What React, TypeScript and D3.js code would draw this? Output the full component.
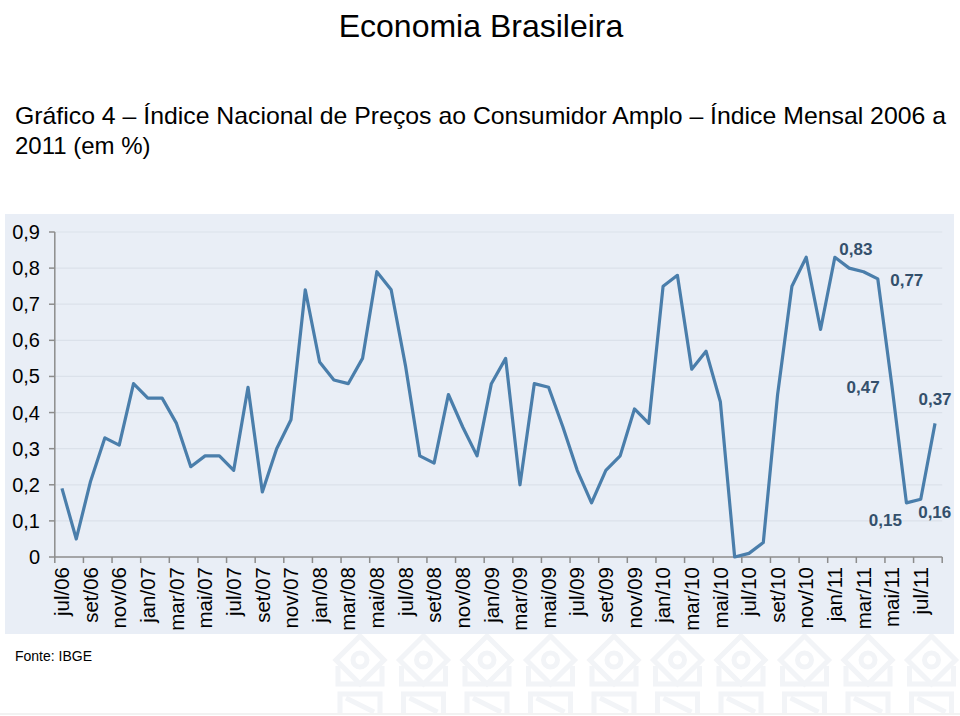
import React from "react";
import * as d3 from "d3";

const months = ["jan", "fev", "mar", "abr", "mai", "jun", "jul", "ago", "set", "out", "nov", "dez"];

// IPCA monthly values (%), jul/06 .. ago/11
const values2006 = [0.19, 0.05, 0.21, 0.33, 0.31, 0.48]; // jul..dez
const values2007 = [0.44, 0.44, 0.37, 0.25, 0.28, 0.28, 0.24, 0.47, 0.18, 0.3, 0.38, 0.74];
const values2008 = [0.54, 0.49, 0.48, 0.55, 0.79, 0.74, 0.53, 0.28, 0.26, 0.45, 0.36, 0.28];
const values2009 = [0.48, 0.55, 0.2, 0.48, 0.47, 0.36, 0.24, 0.15, 0.24, 0.28, 0.41, 0.37];
const values2010 = [0.75, 0.78, 0.52, 0.57, 0.43, 0.0, 0.01, 0.04, 0.45, 0.75, 0.83, 0.63];
const values2011 = [0.83, 0.8, 0.79, 0.77, 0.47, 0.15, 0.16, 0.37]; // jan..ago

const values = [...values2006, ...values2007, ...values2008, ...values2009, ...values2010, ...values2011];

// category labels "mmm/yy"
const categories: string[] = [];
{
  let m = 6, y = 6;
  for (let i = 0; i < values.length; i++) {
    categories.push(`${months[m]}/${String(y).padStart(2, "0")}`);
    m++;
    if (m === 12) { m = 0; y++; }
  }
}

const yTicks = [0, 0.1, 0.2, 0.3, 0.4, 0.5, 0.6, 0.7, 0.8, 0.9];

// labelled points (category index)
const annotatedIdx = [54, 57, 58, 59, 60, 61];
// label placement offsets from the point (px)
const annotationOffsets: [number, number][] = [
  [21, -8], [29, 1], [-29, 0], [-21, 17], [14, 13], [0, -24],
];

const fmt = (v: number) => {
  if (v === 0) return "0";
  return d3.format(".2~f")(v).replace(".", ",");
};
const fmt2 = (v: number) => d3.format(".2f")(v).replace(".", ",");

export default function App() {
  const W = 960, H = 716;
  const x = d3.scaleBand<number>().domain(d3.range(values.length)).range([54.8, 942.2]).padding(0);
  const bw = x.bandwidth();
  const cx = (i: number) => (x(i) as number) + bw / 2;
  const y = d3.scaleLinear().domain([0, 0.9]).range([557, 232]);
  const line = d3.line<number>().x((_, i) => cx(i)).y((d) => y(d));

  const tickIdx = d3.range(0, values.length + 1, 2);
  const labelIdx = d3.range(0, values.length, 2);

  const fontFam = "Arial, 'Liberation Sans', Helvetica, sans-serif";

  // faint watermark logos
  const wmRow1 = d3.range(0, 10).map((k) => 360 + k * 63.5);
  const wmRow2 = d3.range(0, 10).map((k) => 360 + k * 63.5);

  return (
    <svg width={W} height={H} style={{ position: "absolute", left: 0, top: 0, background: "#fff" }} fontFamily={fontFam}>
      {/* watermark */}
      <g stroke="#f2f4f7" strokeWidth={5} fill="none">
        {wmRow1.map((wx, k) => (
          <g key={"a" + k} transform={`translate(${wx},660)`}>
            <rect x={-17} y={-17} width={34} height={34} transform="rotate(45)" />
            <circle r={7} />
            <path d="M-22,6 V24 H22 V6" />
          </g>
        ))}
        {wmRow2.map((wx, k) => (
          <g key={"b" + k} transform={`translate(${wx},702)`}>
            <path d="M-20,12 V-8 H20 V12" />
            <path d="M-14,-4 L14,10" />
          </g>
        ))}
      </g>
      <line x1={0} x2={W} y1={714} y2={714} stroke="#f2f2f2" strokeWidth={2} />

      {/* titles */}
      <text x={481} y={37} textAnchor="middle" fontSize={32} fill="#000">Economia Brasileira</text>
      <text x={15} y={124} fontSize={24} fill="#000" textLength={931} lengthAdjust="spacingAndGlyphs">
        Gráfico 4 – Índice Nacional de Preços ao Consumidor Amplo – Índice Mensal 2006 a
      </text>
      <text x={15} y={154} fontSize={24} fill="#000">2011 (em %)</text>

      {/* plot background */}
      <rect x={5} y={214} width={949} height={420} fill="#e9eef6" />

      {/* gridlines */}
      {yTicks.filter((t) => t > 0).map((t) => (
        <line key={t} x1={55} x2={942.2} y1={y(t)} y2={y(t)} stroke="#dbe1ea" strokeWidth={1.2} />
      ))}

      {/* axes */}
      <line x1={54.8} x2={54.8} y1={y(0.9)} y2={y(0)} stroke="#8c8c8c" strokeWidth={1.5} />
      <line x1={54.8} x2={942.2} y1={y(0)} y2={y(0)} stroke="#8c8c8c" strokeWidth={1.5} />
      {yTicks.map((t) => (
        <g key={t}>
          <line x1={49} x2={54.8} y1={y(t)} y2={y(t)} stroke="#8c8c8c" strokeWidth={1.5} />
          <text x={40} y={y(t)} dy="0.35em" textAnchor="end" fontSize={20} fill="#000">{fmt(t)}</text>
        </g>
      ))}
      {tickIdx.map((i) => {
        const tx = i < values.length ? (x(i) as number) : 942.2;
        return <line key={i} x1={tx} x2={tx} y1={y(0)} y2={y(0) + 6} stroke="#8c8c8c" strokeWidth={1.5} />;
      })}
      {labelIdx.map((i) => (
        <text key={i} transform={`translate(${cx(i)},567) rotate(-90)`} dy="0.35em" textAnchor="end" fontSize={20.5} fill="#000">
          {categories[i]}
        </text>
      ))}

      {/* line */}
      <path d={line(values) || ""} fill="none" stroke="#4a7eab" strokeWidth={3.2} strokeLinejoin="round" />

      {/* annotations */}
      {annotatedIdx.map((i, k) => (
        <text key={i} x={cx(i) + annotationOffsets[k][0]} y={y(values[i]) + annotationOffsets[k][1]} dy="0.35em"
          textAnchor="middle" fontSize={17} fontWeight="bold" fill="#34506c">
          {fmt2(values[i])}
        </text>
      ))}

      <text x={15} y={661} fontSize={14} fill="#000">Fonte: IBGE</text>
    </svg>
  );
}
